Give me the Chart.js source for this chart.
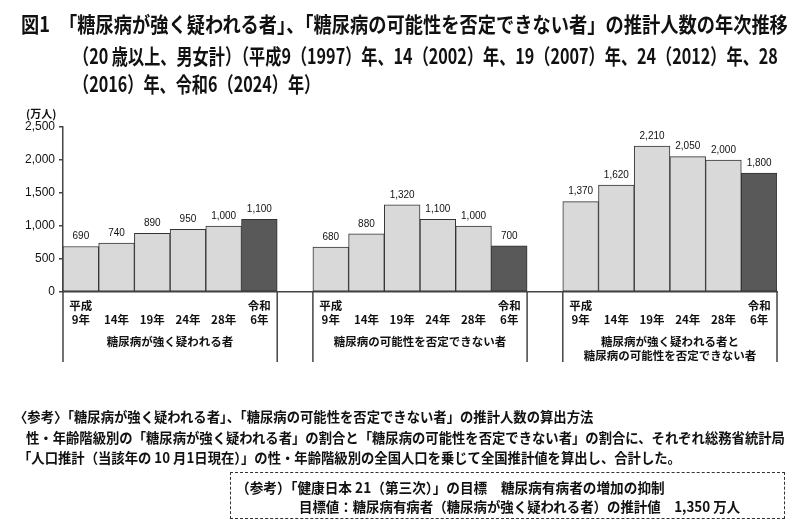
<!DOCTYPE html>
<html lang="ja">
<head>
<meta charset="utf-8">
<script src="https://cdn.jsdelivr.net/npm/chart.js@4.4.1/dist/chart.umd.min.js"></script>
<style>
  html, body { margin: 0; padding: 0; background: #fff; }
  #wrap { position: relative; width: 800px; height: 527px; overflow: hidden; }
  #chart { position: absolute; left: 0; top: 0; }
  .txt {
    position: absolute; white-space: nowrap; line-height: 1;
    font-family: "Noto Sans CJK JP", sans-serif; color: #111;
    transform-origin: 0 50%;
  }
  .title { font-size: 21px; font-weight: bold; }
  .note { font-size: 14px; font-weight: bold; }
  #unit { font-size: 11px; font-weight: bold; }
  #box {
    position: absolute; left: 230px; top: 472px; width: 553px; height: 45px;
    border: 1.5px dashed #333;
  }
</style>
</head>
<body>
<div id="wrap">
  <canvas id="chart" width="800" height="527"></canvas>

  <div class="txt title" id="t1" data-w="767" style="left:21px; top:13px;">図1　「糖尿病が強く疑われる者」、「糖尿病の可能性を否定できない者」の推計人数の年次推移</div>
  <div class="txt title" id="t2" data-w="705" style="left:73px; top:45px;">（20 歳以上、男女計）（平成9（1997）年、14（2002）年、19（2007）年、24（2012）年、28</div>
  <div class="txt title" id="t3" data-like="t2" style="left:73px; top:73px;">（2016）年、令和6（2024）年）</div>

  <div class="txt" id="unit" style="left:26px; top:108px;">(万人)</div>

  <div class="txt note" id="n1" data-like="n2" style="left:14px; top:409px;">〈参考〉「糖尿病が強く疑われる者」、「糖尿病の可能性を否定できない者」の推計人数の算出方法</div>
  <div class="txt note" id="n2" data-w="759" style="left:26px; top:430px;">性・年齢階級別の「糖尿病が強く疑われる者」の割合と「糖尿病の可能性を否定できない者」の割合に、それぞれ総務省統計局</div>
  <div class="txt note" id="n3" data-like="n2" style="left:18px; top:450px;">「人口推計（当該年の 10 月1日現在）」の性・年齢階級別の全国人口を乗じて全国推計値を算出し、合計した。</div>

  <div id="box"></div>
  <div class="txt note" id="b1" data-w="429" style="left:236px; top:480px;">（参考）「健康日本 21（第三次）」の目標　糖尿病有病者の増加の抑制</div>
  <div class="txt note" id="b2" data-w="441" style="left:299px; top:499px;">目標値：糖尿病有病者（糖尿病が強く疑われる者）の推計値　1,350 万人</div>
</div>

<script>
// data (万人)
const yearLabels = [['平成', '9年'], ['', '14年'], ['', '19年'], ['', '24年'], ['', '28年'], ['令和', '6年']];
const groupNames = [
  ['糖尿病が強く疑われる者'],
  ['糖尿病の可能性を否定できない者'],
  ['糖尿病が強く疑われる者と', '糖尿病の可能性を否定できない者']
];
const strongly = [690, 740, 890, 950, 1000, 1100];
const possible = [680, 880, 1320, 1100, 1000, 700];
const combined = [1370, 1620, 2210, 2050, 2000, 1800];
const yMax = 2500;
const yStep = 500;

// squeeze text lines horizontally to the widths in the figure
const scales = {};
document.querySelectorAll('.txt[data-w]').forEach(el => {
  const s = Number(el.dataset.w) / el.offsetWidth;
  scales[el.id] = s;
  el.style.transform = 'scaleX(' + s + ')';
});
document.querySelectorAll('.txt[data-like]').forEach(el => {
  el.style.transform = 'scaleX(' + scales[el.dataset.like] + ')';
});

// three groups with an empty slot between them
const labels = [...yearLabels, '', ...yearLabels, '', ...yearLabels];
const values = [...strongly, null, ...possible, null, ...combined];
const groupStarts = [0, 7, 14];
const LIGHT = '#d9d9d9';
const DARK = '#595959';
const colors = labels.map((l, i) => (i % 7 === 5 ? DARK : LIGHT));

const groupPlugin = {
  id: 'groups',
  afterDraw(chart) {
    const ctx = chart.ctx;
    const x = chart.scales.x;
    const area = chart.chartArea;
    const half = (x.getPixelForValue(1) - x.getPixelForValue(0)) / 2;
    const lineBottom = area.bottom + 70;

    ctx.save();
    ctx.strokeStyle = '#444';
    ctx.lineWidth = 1.5;
    ctx.fillStyle = '#111';
    ctx.font = 'bold 11.5px "Noto Sans CJK JP"';
    ctx.textAlign = 'center';
    ctx.textBaseline = 'middle';
    groupStarts.forEach((start, g) => {
      const left = x.getPixelForValue(start) - half;
      const right = x.getPixelForValue(start + 5) + half;
      [left, right].forEach(px => {
        ctx.beginPath();
        ctx.moveTo(px, area.bottom);
        ctx.lineTo(px, lineBottom);
        ctx.stroke();
      });
      groupNames[g].forEach((line, k) => {
        ctx.fillText(line, (left + right) / 2, area.bottom + 50 + k * 14);
      });
    });

    // value labels over the bars
    const meta = chart.getDatasetMeta(0);
    ctx.font = '10px "Liberation Sans", Arial, sans-serif';
    ctx.fillStyle = '#111';
    meta.data.forEach((bar, i) => {
      const v = values[i];
      if (v == null) return;
      ctx.fillText(v.toLocaleString('en-US'), bar.x, bar.y - 10);
    });
    ctx.restore();
  }
};

new Chart(document.getElementById('chart'), {
  type: 'bar',
  data: {
    labels: labels,
    datasets: [{
      data: values,
      backgroundColor: colors,
      borderColor: '#333',
      borderWidth: 1,
      borderSkipped: false,
      barPercentage: 1,
      categoryPercentage: 1
    }]
  },
  options: {
    responsive: false,
    animation: false,
    layout: { padding: { top: 127, right: 23, bottom: 165, left: 0 } },
    plugins: {
      legend: { display: false },
      tooltip: { enabled: false }
    },
    scales: {
      x: {
        grid: { display: false },
        border: { display: true, color: '#444', width: 1.5 },
        ticks: {
          autoSkip: false,
          maxRotation: 0,
          padding: -2,
          color: '#111',
          font: { family: '"Noto Sans CJK JP"', size: 11.5, weight: 'bold', lineHeight: 1.25 }
        },
        afterFit(scale) { scale.height = 70; }
      },
      y: {
        min: 0,
        max: yMax,
        grid: { display: true, drawOnChartArea: false, drawTicks: true, tickLength: 4, color: '#444', lineWidth: 1.5 },
        border: { display: true, color: '#444', width: 1.5 },
        ticks: {
          stepSize: yStep,
          padding: 4,
          color: '#111',
          font: { family: '"Liberation Sans", Arial, sans-serif', size: 12 },
          callback: v => v.toLocaleString('en-US')
        },
        afterFit(scale) { scale.width = 63; }
      }
    }
  },
  plugins: [groupPlugin]
});
</script>
</body>
</html>
